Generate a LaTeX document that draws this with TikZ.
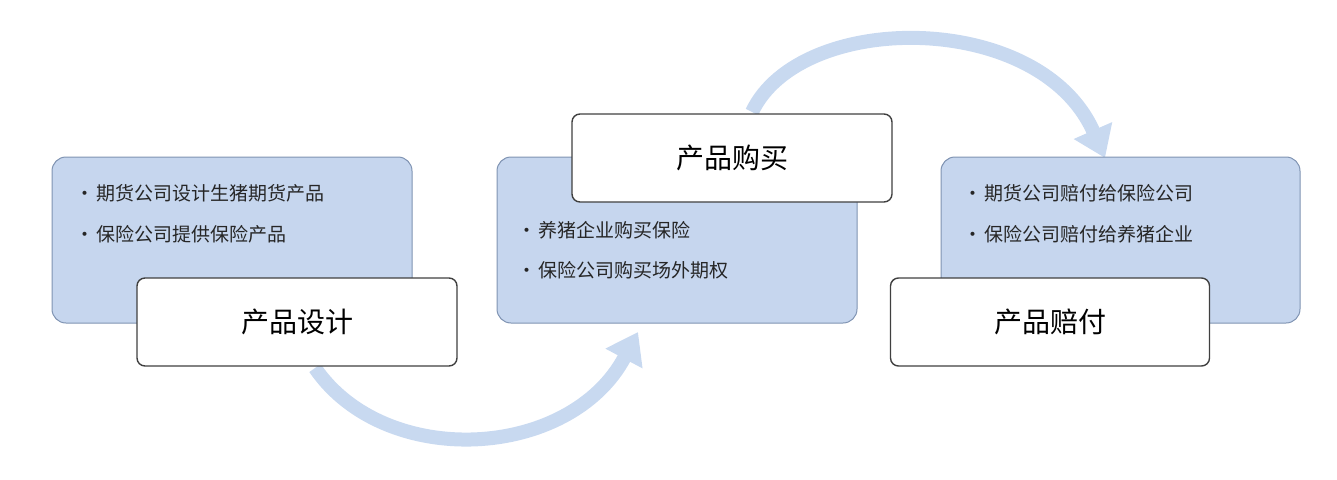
\documentclass[tikz,border=0pt]{standalone}
\usepackage{fontspec}
\setmainfont{Noto Sans CJK SC}
\usetikzlibrary{arrows.meta}
\definecolor{bfill}{HTML}{C6D6EE}
\definecolor{bline}{HTML}{7F93B2}
\definecolor{arr}{HTML}{C8D9F0}
\begin{document}
\begin{tikzpicture}[x=1pt,y=-1pt,
  bluebox/.style={draw=bline,fill=bfill,rounded corners=14pt,line width=1pt},
  labbox/.style={draw=black!75,fill=white,rounded corners=8pt,line width=1.4pt,font=\fontsize{28}{32}\selectfont},
  bul/.style={anchor=west,font=\fontsize{19}{22}\selectfont,text=black!85},
  flow/.style={draw=arr,line width=14pt,-{Triangle[width=40pt,length=30pt]}}]
\useasboundingbox (0,0) rectangle (1337,479);
\draw[flow] (315,368) .. controls (385,470) and (570,460) .. (638,332);
\draw[flow] (752,112) .. controls (800,10) and (1040,10) .. (1105,158);
\draw[bluebox] (52,157) rectangle (412,323);
\draw[bluebox] (497,157) rectangle (857,323);
\draw[bluebox] (941,157) rectangle (1300,323);
\node[labbox,minimum width=320pt,minimum height=88pt] (d) at (297,322) {产品设计};
\node[labbox,minimum width=320pt,minimum height=88pt] (g) at (732,158) {产品购买};
\node[labbox,minimum width=319pt,minimum height=88pt] (p) at (1050,322) {产品赔付};
\node[bul] (a1) at (72,193) {•\kern2pt期货公司设计生猪期货产品};
\node[bul] (a2) at (72,234) {•\kern2pt保险公司提供保险产品};
\node[bul] (b1) at (514,230) {•\kern2pt养猪企业购买保险};
\node[bul] (b2) at (514,270) {•\kern2pt保险公司购买场外期权};
\node[bul] (c1) at (960,193) {•\kern2pt期货公司赔付给保险公司};
\node[bul] (c2) at (960,234) {•\kern2pt保险公司赔付给养猪企业};
\end{tikzpicture}
\end{document}
